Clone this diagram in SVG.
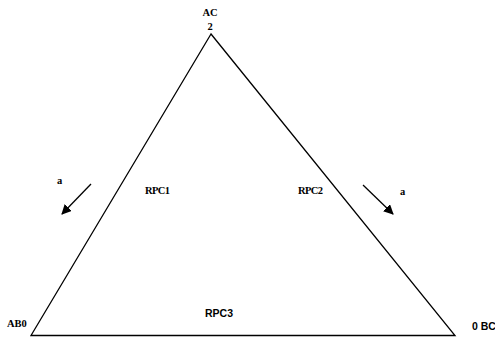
<svg xmlns="http://www.w3.org/2000/svg" width="495" height="337" viewBox="0 0 495 337">
<style>
.serif{font-family:"Liberation Serif","Times New Roman",serif;font-weight:bold;font-size:10.5px;fill:#000}
.sans{font-family:"Liberation Sans",Arial,sans-serif;font-weight:bold;font-size:10.5px;fill:#000}
.edge{stroke:#000;stroke-width:1.3;fill:none}
</style>
<defs>
<marker id="arr" viewBox="0 0 10 10" refX="9" refY="5" markerWidth="10" markerHeight="10" markerUnits="userSpaceOnUse" orient="auto">
<path d="M0,0 L10,5 L0,10 z" fill="#000"/>
</marker>
</defs>
<rect width="495" height="337" fill="#fff"/>
<g id="connectors">
<path class="edge" d="M211,34 L31,335.5 L455,335.5 Z"/>
<line class="edge" x1="91" y1="184" x2="62" y2="214" marker-end="url(#arr)"/>
<line class="edge" x1="363" y1="185" x2="393" y2="214" marker-end="url(#arr)"/>
</g>
<g id="nodeAC"><text class="serif" x="210" y="16" text-anchor="middle">AC</text><text class="serif" x="210" y="30" text-anchor="middle">2</text></g>
<g id="nodeAB0"><text class="serif" x="7" y="327">AB0</text></g>
<g id="nodeBC"><text class="sans" x="472" y="330">0 BC</text></g>
<g id="labelA1"><text class="serif" x="57" y="184">a</text></g>
<g id="labelA2"><text class="serif" x="400" y="195">a</text></g>
<g id="rpc1"><text class="serif" x="145" y="194" letter-spacing="-0.6">RPC1</text></g>
<g id="rpc2"><text class="serif" x="298" y="194" letter-spacing="-0.6">RPC2</text></g>
<g id="rpc3"><text class="sans" x="205" y="317">RPC3</text></g>
</svg>
